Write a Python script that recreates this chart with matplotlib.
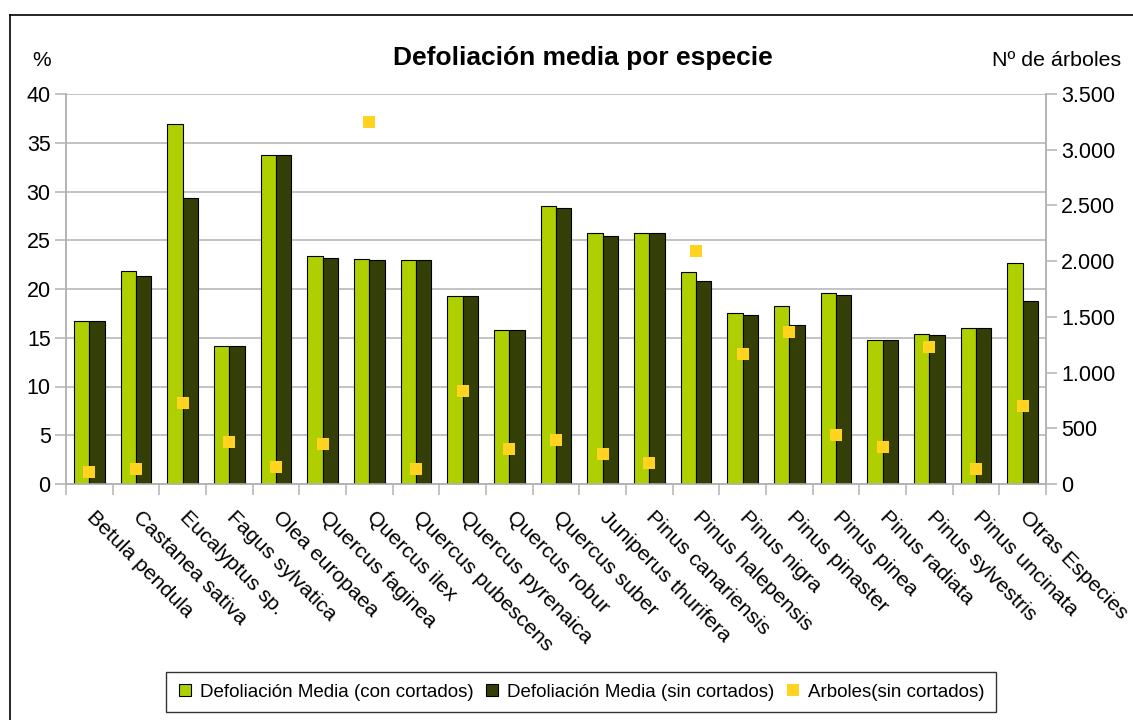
import numpy as np
import matplotlib.pyplot as plt
from matplotlib.lines import Line2D
from matplotlib.ticker import FuncFormatter

plt.rcParams['font.family'] = ['Liberation Sans', 'DejaVu Sans']

especies = ['Betula pendula', 'Castanea sativa', 'Eucalyptus sp.', 'Fagus sylvatica',
            'Olea europaea', 'Quercus faginea', 'Quercus ilex', 'Quercus pubescens',
            'Quercus pyrenaica', 'Quercus robur', 'Quercus suber', 'Juniperus thurifera',
            'Pinus canariensis', 'Pinus halepensis', 'Pinus nigra', 'Pinus pinaster',
            'Pinus pinea', 'Pinus radiata', 'Pinus sylvestris', 'Pinus uncinata',
            'Otras Especies']
defol_con = [16.7, 21.8, 36.9, 14.2, 33.7, 23.4, 23.1, 23.0, 19.3, 15.8, 28.5,
             25.7, 25.7, 21.7, 17.5, 18.3, 19.6, 14.8, 15.4, 16.0, 22.7]
defol_sin = [16.7, 21.3, 29.3, 14.2, 33.7, 23.2, 23.0, 23.0, 19.3, 15.8, 28.3,
             25.4, 25.7, 20.8, 17.3, 16.3, 19.4, 14.8, 15.3, 16.0, 18.8]
arboles = [110, 135, 731, 380, 153, 362, 3246, 135, 832, 317, 396,
           272, 191, 2094, 1167, 1364, 437, 329, 1229, 137, 700]

c_con = '#afcf00'
c_sin = '#333f07'
c_arb = '#ffd320'
c_gris = '#b3b3b3'

W, H = 1133, 720
fig = plt.figure(figsize=(W / 100, H / 100), dpi=100)
ax = fig.add_axes([66 / W, (H - 484) / H, 980 / W, 390 / H])
ax2 = ax.twinx()

x = np.arange(len(especies))
w = 0.332
ax.bar(x - w / 2, defol_con, w, color=c_con, edgecolor='black', linewidth=0.8, zorder=3)
ax.bar(x + w / 2, defol_sin, w, color=c_sin, edgecolor='black', linewidth=0.8, zorder=3)
ax2.plot(x, arboles, 's', color=c_arb, markersize=8.8, markeredgewidth=0, zorder=4)

ax.set_xlim(-0.5, len(especies) - 0.5)
ax.set_ylim(0, 40)
ax.set_yticks(np.arange(0, 41, 5))
ax2.set_ylim(0, 3500)
ax2.set_yticks(np.arange(0, 3501, 500))
ax2.yaxis.set_major_formatter(FuncFormatter(lambda v, p: f'{int(v):,}'.replace(',', '.')))

ax.grid(axis='y', color=c_gris, linewidth=1.1, zorder=0)
ax.set_axisbelow(True)
for a in (ax, ax2):
    a.spines['top'].set_visible(False)
    for s in ('left', 'right', 'bottom'):
        a.spines[s].set_color(c_gris)
        a.spines[s].set_linewidth(1.1)

# ticks between categories, labels under each pair of bars
ax.set_xticks(np.arange(-0.5, len(especies), 1))
ax.set_xticklabels([])
ax.tick_params(axis='x', which='major', length=8, color=c_gris, width=1.1)
ax.set_xticks(x, especies, minor=True)
ax.tick_params(axis='x', which='minor', length=0, pad=22, labelsize=15.3)
for lbl in ax.get_xticklabels(minor=True):
    lbl.set_rotation(-45)
    lbl.set_ha('left')
    lbl.set_va('center')
    lbl.set_rotation_mode('anchor')

ax.tick_params(axis='y', length=8, color=c_gris, width=1.1, labelsize=15.5, pad=3)
ax2.tick_params(axis='y', length=8, color=c_gris, width=1.1, labelsize=15.5, pad=3)

fig.text(583 / W, 1 - 58 / H, 'Defoliación media por especie', ha='center', va='center',
         fontsize=19, fontweight='bold')
fig.text(42 / W, 1 - 60 / H, '%', ha='center', va='center', fontsize=15)
fig.text(1121 / W, 1 - 60 / H, 'Nº de árboles', ha='right', va='center', fontsize=15.4)

handles = [
    Line2D([], [], marker='s', linestyle='none', markerfacecolor=c_con,
           markeredgecolor='black', markeredgewidth=0.8, markersize=9),
    Line2D([], [], marker='s', linestyle='none', markerfacecolor=c_sin,
           markeredgecolor='black', markeredgewidth=0.8, markersize=9),
    Line2D([], [], marker='s', linestyle='none', markerfacecolor=c_arb,
           markeredgewidth=0, markersize=9),
]
leg = fig.legend(handles, ['Defoliación Media (con cortados)', 'Defoliación Media (sin cortados)',
                           'Arboles(sin cortados)'],
                 loc='center', bbox_to_anchor=(581 / W, 1 - 692 / H), ncol=3,
                 fontsize=13.5, frameon=True, fancybox=False, edgecolor='black',
                 handlelength=0.8, handletextpad=0.4, columnspacing=0.6,
                 borderpad=0.6, borderaxespad=0)
leg.get_frame().set_linewidth(1.0)

# outer frame of the chart
fig.add_artist(Line2D([10 / W, 1], [1 - 15 / H, 1 - 15 / H], color='black', linewidth=1.2))
fig.add_artist(Line2D([10 / W, 10 / W], [0, 1 - 15 / H], color='black', linewidth=1.2))

fig.savefig('out.png', dpi=100)
